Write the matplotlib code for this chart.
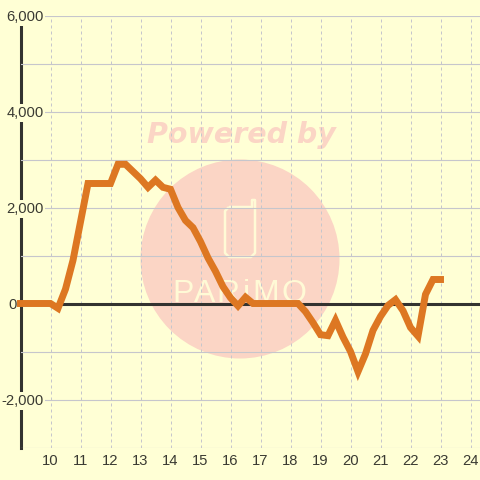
import numpy as np
import matplotlib
matplotlib.use("Agg")
import matplotlib.pyplot as plt
from matplotlib.patches import Circle, PathPatch
from matplotlib.path import Path

# Data, one value every 15 minutes from 9:00
hours = np.arange(9, 23.25, 0.25)
values = [
    0, 0, 0, 0,
    0, -100, 300, 900, 1700, 2500, 2500, 2500,
    2500, 2900, 2900, 2750, 2600, 2420, 2570, 2420,
    2380, 2000, 1730, 1580, 1290, 950, 670, 350,
    120, -50, 130, 0, 0, 0, 0, 0,
    0, 0, -170, -400, -650, -670, -350, -700,
    -1000, -1420, -1050, -560, -270, -40, 80, -150,
    -500, -680, 190, 500, 500,
]
x_ticks = list(range(10, 25))
y_major = [-2000, 0, 2000, 4000, 6000]
y_labels = ["-2,000", "0", "2,000", "4,000", "6,000"]
y_minor = [-3000, -1000, 1000, 3000, 5000]

bg = "#ffffd5"
text_color = "#3a3a32"
grid_color = "#c6c6cc"
dark = "#333330"
orange = "#dd7722"
pink = "#fbd5c5"
cream = "#fffad6"

plt.rcParams['font.family'] = ['Liberation Sans', 'DejaVu Sans']

fig = plt.figure(figsize=(4.8, 4.8), dpi=100, facecolor=bg)
ax = fig.add_axes([20.5 / 480, 32.5 / 480, 459.5 / 480, 432 / 480])
ax.patch.set_alpha(0)
ax.set_xlim(9, 9 + 459.5 / 30)
ax.set_ylim(-3000, 6000)

for s in ["top", "right", "bottom"]:
    ax.spines[s].set_visible(False)
ax.spines["left"].set_color(dark)
ax.spines["left"].set_linewidth(2.2)
ax.spines["left"].set_zorder(0.4)
ax.set_axisbelow(True)


# Watermark sits behind the axes, placed in pixels from the top left
def fx(v):
    return v / 480


def fy(v):
    return 1 - v / 480


fig.add_artist(Circle((240, 480 - 259), 99.5, transform=None, facecolor=pink, edgecolor="none", zorder=-3))
fig.text(fx(241), fy(135), "Powered by", family="DejaVu Sans", weight="bold", style="italic",
         fontsize=20.5, color=pink, ha="center", va="center", zorder=-2)
for lx, letter in zip([183, 205, 228, 246, 266, 294], "PARiMO"):
    fig.text(fx(lx), fy(302), letter, fontsize=23, color=cream, ha="center", va="baseline", zorder=-2)

# Phone outline with its aerial
phone_pts = [(229, 207), (252, 207), (252, 200), (255, 200), (255, 253), (251, 257), (229, 257), (225, 253),
             (225, 211), (229, 207)]
phone_px = [(a, 480 - b) for a, b in phone_pts]
fig.add_artist(PathPatch(Path(phone_px), transform=None, facecolor="none", edgecolor=cream, linewidth=1.8,
                         joinstyle="round", zorder=-2))

# Grid
ax.set_yticks(y_major)
ax.set_yticklabels(y_labels)
ax.set_yticks(y_minor, minor=True)
ax.set_xticks(x_ticks)
ax.grid(True, axis="y", which="both", color=grid_color, linewidth=0.8)
ax.grid(True, axis="x", which="major", color=grid_color, linewidth=0.72, linestyle=(0, (3, 3)))
ax.tick_params(axis="both", which="both", length=0, labelsize=10.65, labelcolor=text_color)
ax.tick_params(axis="x", pad=5)
ax.tick_params(axis="y", pad=-16.5)

for tick, v in zip(ax.yaxis.get_major_ticks(), y_major):
    if v == 0:
        tick.set_pad(3)
    else:
        tick.label1.set_bbox(dict(facecolor=bg, edgecolor="none", pad=1.5))

ax.axhline(0, color=dark, linewidth=2.2, zorder=1)
ax.plot(hours, values, color=orange, linewidth=5, solid_capstyle="projecting",
        solid_joinstyle="miter", clip_on=False, zorder=3)

fig.savefig("out.png", dpi=100, facecolor=bg)
